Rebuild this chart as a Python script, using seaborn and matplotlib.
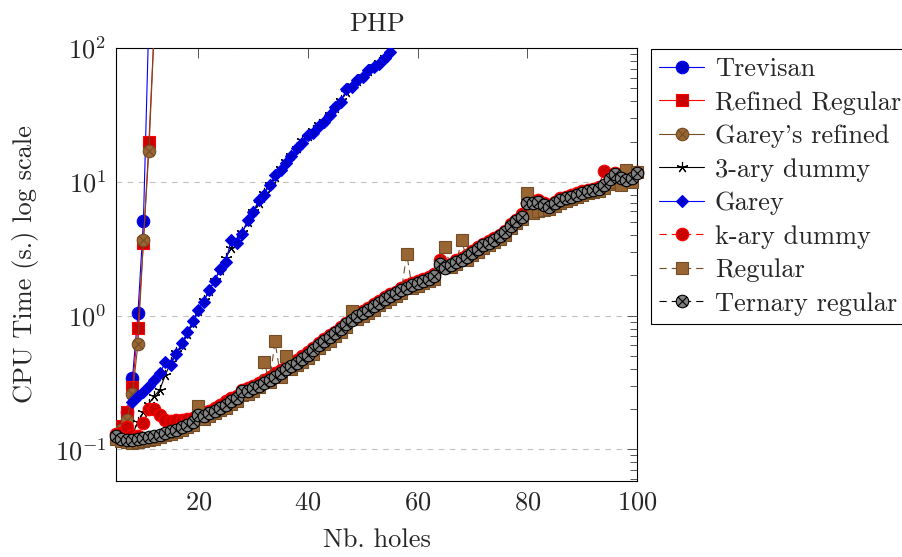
import numpy as np
import pandas as pd
import matplotlib
matplotlib.use('Agg')
import matplotlib.pyplot as plt
from matplotlib.path import Path
from matplotlib.ticker import FixedLocator, LogLocator, NullFormatter
import seaborn as sns

# 데이터: 구멍 수(Nb. holes)별 CPU 시간(초)
holes_trevisan = [5, 6, 7, 8, 9, 10, 11]
trevisan = [0.13, 0.14, 0.19, 0.34, 1.04, 5.1, 170]

holes_refined = [5, 6, 7, 8, 9, 10, 11, 12]
refined_regular = [0.13, 0.15, 0.19, 0.29, 0.81, 3.5, 20.0, 150]
gareys_refined = [0.125, 0.14, 0.166, 0.26, 0.61, 3.7, 17.0, 145]

holes_garey = list(range(8, 56))
garey = [0.226, 0.25, 0.27, 0.30, 0.33, 0.37, 0.45, 0.43, 0.52, 0.62,
         0.75, 0.91, 1.11, 1.27, 1.56, 1.82, 2.24, 2.5, 3.7, 3.5,
         4.1, 5.2, 5.9, 7.3, 8.0, 9.5, 11.2, 12.3, 13.9, 15.6,
         17.8, 19.6, 22.3, 23.0, 26.1, 28.2, 31.6, 36.4, 39.7, 49.0,
         51.0, 58.0, 61.0, 69.0, 72.0, 76.0, 84.0, 94.0]
ary3_dummy = [0.13, 0.16, 0.19, 0.22, 0.25, 0.28, 0.36, 0.45, 0.53, 0.60,
              0.73, 0.88, 1.08, 1.30, 1.52, 1.85, 2.2, 2.7, 3.2, 3.6,
              4.2, 5.0, 6.0, 7.0, 8.3, 9.7, 10.8, 12.6, 14.2, 15.9,
              18.0, 20.5, 22.0, 24.5, 27.0, 28.5, 32.0, 35.5, 41.0, 47.0,
              53.0, 57.0, 62.0, 67.0, 73.0, 78.0, 86.0, 100.0]

holes_all = list(range(5, 101))
ternary_regular = [0.125, 0.120, 0.118, 0.118, 0.119, 0.121, 0.123, 0.126, 0.129, 0.132,
                   0.136, 0.140, 0.146, 0.152, 0.160, 0.180, 0.178, 0.186, 0.195, 0.205,
                   0.215, 0.228, 0.240, 0.275, 0.272, 0.285, 0.300, 0.315, 0.330, 0.350,
                   0.370, 0.400, 0.420, 0.445, 0.475, 0.510, 0.550, 0.600, 0.645, 0.690,
                   0.740, 0.800, 0.860, 0.930, 1.000, 1.040, 1.100, 1.170, 1.250, 1.330,
                   1.400, 1.470, 1.550, 1.620, 1.700, 1.750, 1.820, 1.880, 1.970, 2.450,
                   2.250, 2.380, 2.500, 2.620, 2.750, 2.950, 3.150, 3.350, 3.500, 3.700,
                   3.900, 4.200, 4.700, 5.100, 5.500, 6.900, 7.000, 7.100, 6.700, 6.500,
                   6.900, 7.300, 7.500, 7.700, 8.000, 8.300, 8.500, 8.700, 8.900, 9.400,
                   10.500, 11.500, 10.600, 10.400, 10.700, 11.600]
regular = [0.120, 0.115, 0.113, 0.112, 0.113, 0.115, 0.117, 0.120, 0.123, 0.127,
           0.130, 0.134, 0.140, 0.146, 0.152, 0.210, 0.170, 0.178, 0.186, 0.196,
           0.205, 0.218, 0.230, 0.255, 0.260, 0.272, 0.290, 0.450, 0.320, 0.640,
           0.350, 0.500, 0.400, 0.425, 0.450, 0.480, 0.520, 0.570, 0.610, 0.650,
           0.700, 0.760, 0.820, 1.080, 0.950, 1.000, 1.050, 1.110, 1.190, 1.270,
           1.330, 1.400, 1.480, 2.900, 1.620, 1.670, 1.740, 1.800, 1.880, 2.350,
           3.270, 2.300, 2.420, 3.660, 2.620, 2.820, 3.000, 3.200, 3.350, 3.550,
           3.750, 4.000, 4.500, 4.900, 5.300, 8.300, 5.800, 6.000, 6.200, 6.300,
           6.600, 7.000, 7.200, 7.400, 7.700, 8.000, 8.200, 8.400, 8.600, 9.000,
           9.600, 10.000, 9.400, 12.200, 10.000, 11.800]
kary_dummy = [0.130, 0.132, 0.148, 0.128, 0.126, 0.157, 0.200, 0.200, 0.180, 0.165,
              0.162, 0.165, 0.167, 0.170, 0.172, 0.180, 0.185, 0.193, 0.203, 0.215,
              0.228, 0.240, 0.252, 0.280, 0.285, 0.300, 0.315, 0.330, 0.350, 0.370,
              0.390, 0.415, 0.440, 0.465, 0.495, 0.530, 0.575, 0.620, 0.670, 0.720,
              0.760, 0.820, 0.880, 0.950, 1.020, 1.080, 1.140, 1.210, 1.290, 1.370,
              1.440, 1.510, 1.600, 1.680, 1.760, 1.820, 1.880, 1.950, 2.050, 2.600,
              2.350, 2.450, 2.580, 2.700, 2.850, 3.050, 3.250, 3.450, 3.600, 3.800,
              4.000, 4.300, 4.800, 5.200, 5.700, 7.000, 7.200, 7.300, 6.900, 6.700,
              7.100, 7.500, 7.700, 7.900, 8.200, 8.500, 8.700, 8.900, 9.200, 12.100,
              10.600, 11.600, 10.800, 10.600, 10.900, 11.800]

# 스타일 설정 (pgfplots 느낌)
sns.set_theme(style='white')
plt.rcParams['font.family'] = 'serif'
plt.rcParams['font.serif'] = ['cmr10', 'DejaVu Serif']
plt.rcParams['mathtext.fontset'] = 'cm'
plt.rcParams['axes.formatter.use_mathtext'] = True
plt.rcParams['axes.unicode_minus'] = True
FS = 19

# otimes 마커: 원 + X
circ = Path.unit_circle()
c = 0.7071
otimes = Path.make_compound_path(circ,
                                 Path([[-c, -c], [c, c]]),
                                 Path([[-c, c], [c, -c]]))

BLUE, RED, BROWN, BLACK = '#0000ff', '#ff0000', '#734d26', '#000000'
BLUE_F, RED_F, BROWN_F = '#0000cc', '#cc0000', '#996633'
DASH = (0, (6.5, 4.5))

fig = plt.figure(figsize=(9.02, 5.57), dpi=100)
ax = fig.add_axes([116 / 902, 1 - 481 / 557, (637 - 116) / 902, (481 - 48) / 557])

# (이름, x, y, 선색, 채움색, 마커, 크기, 선스타일, 클리핑)
series = [
    ('Trevisan', holes_trevisan, trevisan, BLUE, BLUE_F, 'o', 9, '-', True),
    ('Refined Regular', holes_refined, refined_regular, RED, RED_F, 's', 8.5, '-', True),
    ("Garey's refined", holes_refined, gareys_refined, BROWN, BROWN_F, otimes, 9, '-', True),
    ('3-ary dummy', holes_garey, ary3_dummy, BLACK, BLACK, (5, 2, 0), 8, '-', True),
    ('Garey', holes_garey, garey, BLUE, BLUE_F, 'D', 6.2, '-', True),
    ('k-ary dummy', holes_all, kary_dummy, RED, RED_F, 'o', 9, DASH, False),
    ('Regular', holes_all, regular, BROWN, BROWN_F, 's', 8.5, DASH, False),
    ('Ternary regular', holes_all, ternary_regular, BLACK, '#808080', otimes, 9, DASH, False),
]

for name, xs, ys, col, fcol, mk, ms, ls, clip in series:
    df = pd.DataFrame({'holes': xs, 'time': ys})
    sns.lineplot(data=df, x='holes', y='time', ax=ax, color=col, linestyle=ls,
                 linewidth=0.8, marker=mk, markersize=ms, markerfacecolor=fcol,
                 markeredgecolor=col, markeredgewidth=0.8, errorbar=None,
                 label=name, legend=False, clip_on=clip)

ax.set_yscale('log')
ax.set_xlim(5, 100)
ax.set_ylim(0.058, 100)
ax.xaxis.set_major_locator(FixedLocator([20, 40, 60, 80, 100]))
ax.yaxis.set_major_locator(LogLocator(base=10, numticks=10))
ax.yaxis.set_minor_locator(LogLocator(base=10, subs=np.arange(2, 10), numticks=20))
ax.yaxis.set_minor_formatter(NullFormatter())
ax.tick_params(which='both', direction='in', top=True, right=True, color='#555555',
               width=0.7, labelsize=FS, pad=7)
ax.tick_params(which='major', length=7)
ax.tick_params(which='minor', length=5)
ax.grid(True, axis='y', which='major', linestyle=(0, (5, 5)), color='#c0c0c0', linewidth=0.8)
ax.grid(False, axis='x')
for sp in ax.spines.values():
    sp.set_color('black')
    sp.set_linewidth(0.8)
    sp.set_zorder(1)

ax.set_title('PHP', fontsize=FS, pad=12)
ax.set_xlabel('Nb. holes', fontsize=FS, labelpad=10)
ax.set_ylabel('CPU Time (s.) log scale', fontsize=FS, labelpad=11)

leg = ax.legend(loc='upper left', bbox_to_anchor=(651 / 902, 1 - 49 / 557),
                bbox_transform=fig.transFigure, frameon=True, fancybox=False,
                edgecolor='black', framealpha=1, borderaxespad=0, fontsize=FS,
                handlelength=1.7, handletextpad=0.4, labelspacing=0.37, borderpad=0.32)
leg.get_frame().set_linewidth(0.8)

fig.savefig('out.png', dpi=100)
